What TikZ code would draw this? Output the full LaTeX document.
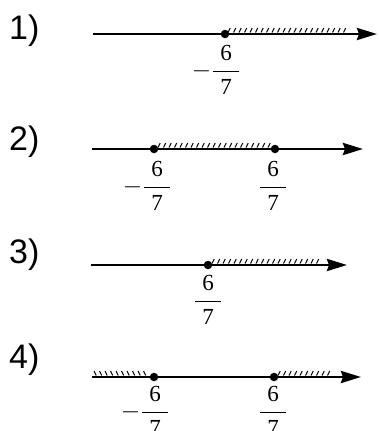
\documentclass[tikz,border=0pt]{standalone}
\usepackage{amsmath}
\usepackage{fontspec}
\newfontfamily\labfont{Liberation Sans}
\newfontfamily\digfont{Liberation Serif}
\usetikzlibrary{arrows.meta}
\tikzset{
  axisline/.style={line width=2.8pt, -{Stealth[length=20pt,width=12pt,inset=2pt]}},
  pt/.style={circle, fill=black, inner sep=0pt, minimum size=8.5pt},
  numlab/.style={font=\labfont\fontsize{34}{38}\selectfont, anchor=west, inner sep=0pt},
  frac/.style={font=\fontsize{23}{26}\selectfont, inner sep=0pt},
  hatch/.style={line width=1pt}
}
\newcommand{\fr}{\dfrac{\mkern5mu\hbox{\digfont 6}\mkern5mu}{\mkern5mu\hbox{\digfont 7}\mkern5mu}}
\newcommand{\hatchR}[3]{% "/" ticks from x #1 to #2 at y #3
  \foreach \hx in {#1,...,#2}{\draw[hatch] (\hx,#3-1.5) -- (\hx+2.2,#3-6);}}
\newcommand{\hatchL}[3]{% "\" ticks
  \foreach \hx in {#1,...,#2}{\draw[hatch] (\hx,#3-6) -- (\hx+2.2,#3-1.5);}}
\begin{document}
\begin{tikzpicture}[x=1pt,y=-1pt]
\useasboundingbox (0,0) rectangle (378,431);
% row 1
\node[numlab] (l1) at (9,31) {1)};
\coordinate (s1) at (93,34); \coordinate (e1) at (377,34);
\hatchR{228,233.5}{346}{34}
\draw[axisline] (s1) -- (e1);
\node[pt] (p1) at (225,34) {};
\node[frac] (f1) at (226,70) {\llap{$-$\hspace{1pt}}$\fr$};
% row 2
\node[numlab] (l2) at (9,142) {2)};
\coordinate (s2) at (92,149); \coordinate (e2) at (363,149);
\hatchR{158,163.5}{270}{149}
\draw[axisline] (s2) -- (e2);
\node[pt] (p2a) at (154,149) {};
\node[pt] (p2b) at (275,149) {};
\node[frac] (f2a) at (157,186) {\llap{$-$\hspace{1pt}}$\fr$};
\node[frac] (f2b) at (273,186) {$\fr$};
% row 3
\node[numlab] (l3) at (9,255) {3)};
\coordinate (s3) at (91,265); \coordinate (e3) at (347,265);
\hatchR{212,217.5}{320}{265}
\draw[axisline] (s3) -- (e3);
\node[pt] (p3) at (208,265) {};
\node[frac] (f3) at (208,300) {$\fr$};
% row 4
\node[numlab] (l4) at (9,360) {4)};
\coordinate (s4) at (92,377); \coordinate (e4) at (361,377);
\hatchL{94,99.5}{146}{377}
\hatchR{278,283.5}{330}{377}
\draw[axisline] (s4) -- (e4);
\node[pt] (p4a) at (154,377) {};
\node[pt] (p4b) at (274,377) {};
\node[frac] (f4a) at (155,411) {\llap{$-$\hspace{1pt}}$\fr$};
\node[frac] (f4b) at (273,411) {$\fr$};
\end{tikzpicture}
\end{document}
